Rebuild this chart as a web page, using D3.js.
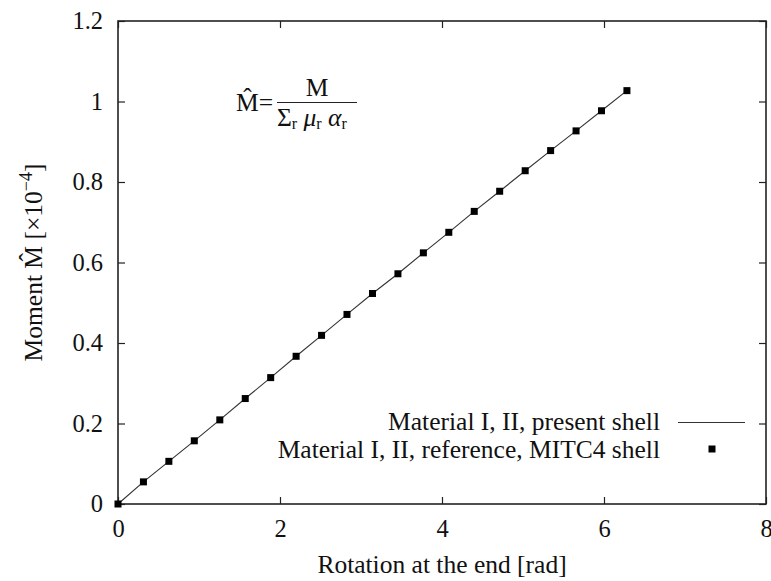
<!DOCTYPE html>
<html>
<head>
<meta charset="utf-8">
<script src="https://cdn.jsdelivr.net/npm/d3@7"></script>
<style>
  html, body { margin: 0; padding: 0; background: #fff; }
  svg { display: block; }
  svg text { font-family: "Liberation Serif", "Times New Roman", serif; }
</style>
</head>
<body>
<svg id="chart" width="771" height="581"></svg>
<script>
// End rotation (rad) and normalised moment (x1e-4)
const rotation = [0, 0.314, 0.628, 0.942, 1.257, 1.571, 1.885, 2.199, 2.513, 2.827, 3.142,
                  3.456, 3.770, 4.084, 4.398, 4.712, 5.027, 5.341, 5.655, 5.969, 6.283];
const momentPresent = [0, 0.055, 0.106, 0.157, 0.209, 0.262, 0.314, 0.367, 0.419, 0.471, 0.523,
                       0.572, 0.624, 0.675, 0.727, 0.777, 0.828, 0.878, 0.927, 0.977, 1.027];
const momentMITC4 = [0, 0.055, 0.106, 0.157, 0.209, 0.262, 0.314, 0.367, 0.419, 0.471, 0.523,
                     0.572, 0.624, 0.675, 0.727, 0.777, 0.828, 0.878, 0.927, 0.977, 1.027];
const xTicks = [0, 2, 4, 6, 8];
const yTicks = [0, 0.2, 0.4, 0.6, 0.8, 1, 1.2];
const seriesNames = ["Material I, II, present shell", "Material I, II, reference, MITC4 shell"];

const svg = d3.select("#chart");
const m = { left: 118, right: 766, top: 21, bottom: 504 };
const x = d3.scaleLinear().domain([0, 8]).range([m.left, m.right]);
const y = d3.scaleLinear().domain([0, 1.2]).range([m.bottom, m.top]);
const fs = 25.5;   // titles, legend, formula
const fsTick = 24.5;
const tickLen = 7;

// axes with inward ticks, mirrored on top and right
const fmt = d => d3.format("~g")(d);
const axB = svg.append("g").attr("transform", `translate(0,${m.bottom})`)
  .call(d3.axisBottom(x).tickValues(xTicks).tickFormat(fmt).tickSizeInner(-tickLen).tickSizeOuter(0).tickPadding(16));
const axL = svg.append("g").attr("transform", `translate(${m.left},0)`)
  .call(d3.axisLeft(y).tickValues(yTicks).tickFormat(fmt).tickSizeInner(-tickLen).tickSizeOuter(0).tickPadding(15));
const axT = svg.append("g").attr("transform", `translate(0,${m.top})`)
  .call(d3.axisTop(x).tickValues(xTicks).tickFormat("").tickSizeInner(-tickLen).tickSizeOuter(0));
const axR = svg.append("g").attr("transform", `translate(${m.right},0)`)
  .call(d3.axisRight(y).tickValues(yTicks).tickFormat("").tickSizeInner(-tickLen).tickSizeOuter(0));
[axB, axL, axT, axR].forEach(g => {
  g.select(".domain").remove();
  g.selectAll("line").attr("stroke", "#222").attr("stroke-width", 1.2);
  g.selectAll("text").style("font-family", "Liberation Serif").attr("font-size", fsTick).attr("fill", "#111");
});

// frame
svg.append("rect").attr("x", m.left).attr("y", m.top)
  .attr("width", m.right - m.left).attr("height", m.bottom - m.top)
  .attr("fill", "none").attr("stroke", "#222").attr("stroke-width", 1.6);

// present shell: solid line
const pts = rotation.map((r, i) => [r, momentPresent[i]]);
svg.append("path").datum(pts)
  .attr("fill", "none").attr("stroke", "#333").attr("stroke-width", 1.1)
  .attr("d", d3.line().x(d => x(d[0])).y(d => y(d[1])));

// MITC4 reference: filled squares
const sq = 7;
svg.append("g").selectAll("rect").data(rotation.map((r, i) => [r, momentMITC4[i]]))
  .join("rect")
  .attr("x", d => x(d[0]) - sq / 2).attr("y", d => y(d[1]) - sq / 2)
  .attr("width", sq).attr("height", sq).attr("fill", "#000");

// legend
const lg = svg.append("g").attr("font-size", fs).attr("fill", "#111");
lg.append("text").attr("x", 660).attr("y", 430).attr("text-anchor", "end").text(seriesNames[0]);
lg.append("line").attr("x1", 678).attr("x2", 745).attr("y1", 422.5).attr("y2", 422.5)
  .attr("stroke", "#333").attr("stroke-width", 1.1);
lg.append("text").attr("x", 660).attr("y", 458).attr("text-anchor", "end").text(seriesNames[1]);
lg.append("rect").attr("x", 712 - sq / 2).attr("y", 449 - sq / 2).attr("width", sq).attr("height", sq).attr("fill", "#000");

// axis titles
svg.append("text").attr("x", (m.left + m.right) / 2).attr("y", 573)
  .attr("text-anchor", "middle").attr("font-size", fs).attr("fill", "#111")
  .text("Rotation at the end [rad]");

const yt = svg.append("text")
  .attr("transform", `translate(42,${(m.top + m.bottom) / 2}) rotate(-90)`)
  .attr("text-anchor", "middle").attr("font-size", fs).attr("fill", "#111");
yt.append("tspan").text("Moment M\u0302 [×10");
yt.append("tspan").attr("dy", -10).attr("font-size", 18).text("−4");
yt.append("tspan").attr("dy", 10).text("]");

// formula: M-hat = M / (sum_r mu_r alpha_r)
const fm = svg.append("g").attr("font-size", fs).attr("fill", "#111");
fm.append("text").attr("x", 236).attr("y", 111).text("M\u0302=");
fm.append("line").attr("x1", 277).attr("x2", 357).attr("y1", 102.5).attr("y2", 102.5)
  .attr("stroke", "#222").attr("stroke-width", 1.2);
fm.append("text").attr("x", 317).attr("y", 96).attr("text-anchor", "middle").text("M");
const den = fm.append("text").attr("x", 277).attr("y", 126);
den.append("tspan").text("Σ");
den.append("tspan").attr("font-size", 16).attr("dy", 3).text("r");
den.append("tspan").attr("dy", -3).text(" ");
den.append("tspan").attr("font-style", "italic").text("μ");
den.append("tspan").attr("font-size", 16).attr("dy", 3).text("r");
den.append("tspan").attr("dy", -3).text(" ");
den.append("tspan").attr("font-style", "italic").text("α");
den.append("tspan").attr("font-size", 16).attr("dy", 3).text("r");
</script>
</body>
</html>
